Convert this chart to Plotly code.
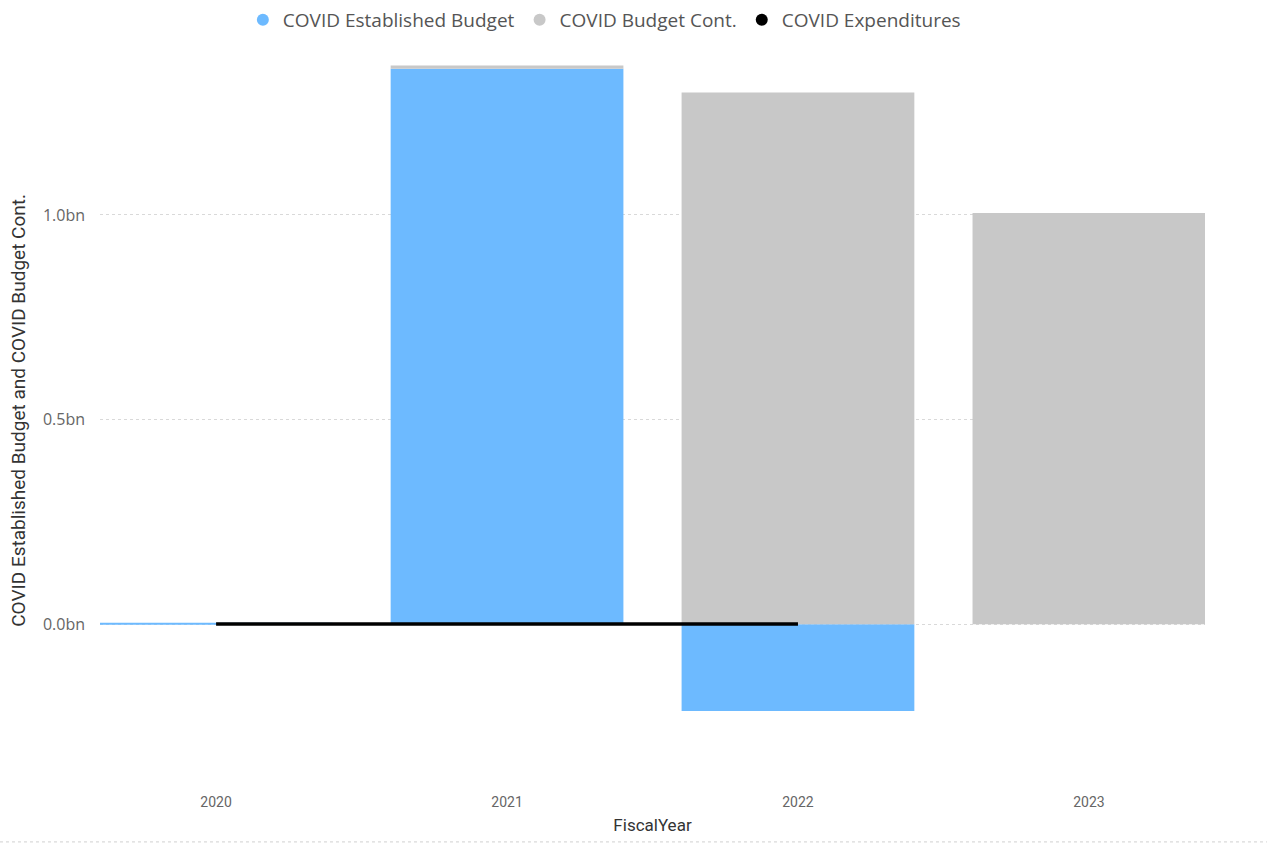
import plotly.graph_objects as go

years = ["2020", "2021", "2022", "2023"]
established_budget = [0.004, 1.357, -0.212, 0.0]   # bn
budget_cont = [0.0, 0.008, 1.299, 1.005]          # bn
exp_years = ["2020", "2021", "2022"]
expenditures = [0.001, 0.001, 0.001]              # bn
ytick_vals = [0.0, 0.5, 1.0]
ytick_text = ["0.0bn", "0.5bn", "1.0bn"]

BLUE = "#6DBAFF"
GREY = "#C8C8C8"
BLACK = "#000000"

xpos = list(range(len(years)))
exp_pos = [years.index(y) for y in exp_years]

fig = go.Figure()
fig.add_trace(go.Bar(x=xpos, y=established_budget, marker=dict(color=BLUE, line=dict(width=0)),
                     width=0.8, showlegend=False, name="COVID Established Budget"))
fig.add_trace(go.Bar(x=xpos, y=budget_cont, marker=dict(color=GREY, line=dict(width=0)),
                     width=0.8, showlegend=False, name="COVID Budget Cont."))
fig.add_trace(go.Scatter(x=exp_pos, y=expenditures, mode="lines",
                         line=dict(color=BLACK, width=3.5), showlegend=False,
                         name="COVID Expenditures"))
# legend entries with circle markers
for nm, col in [("COVID Established Budget", BLUE), ("COVID Budget Cont.", GREY),
                ("COVID Expenditures", BLACK)]:
    fig.add_trace(go.Scatter(x=[None], y=[None], mode="markers", name=nm,
                             marker=dict(color=col, size=12, symbol="circle")))

fig.update_layout(
    width=1267, height=845,
    barmode="relative",
    bargap=0.2,
    plot_bgcolor="white", paper_bgcolor="white",
    margin=dict(l=100, r=62, t=45, b=75),
    font=dict(family="Open Sans, Noto Sans, sans-serif", color="#666666"),
    legend=dict(orientation="h", xref="container", yref="container",
                x=0.477, xanchor="center", y=0.999, yanchor="top",
                font=dict(size=19, color="#555555"), itemwidth=30,
                tracegroupgap=0),
    xaxis=dict(range=[-0.399, 3.399], tickvals=xpos, ticktext=years,
               showgrid=False, zeroline=False, showline=False, ticks="",
               tickfont=dict(family="Roboto, sans-serif", size=14, color="#666666"),
               ticklabelstandoff=22,
               title=dict(text="FiscalYear", standoff=10,
                          font=dict(family="Roboto, sans-serif", size=17, color="#333333"))),
    yaxis=dict(range=[-0.356, 1.401], tickvals=ytick_vals, ticktext=ytick_text,
               showgrid=True, gridcolor="#D9D9D9", griddash="dot", gridwidth=1,
               zeroline=False, showline=False, ticks="",
               tickfont=dict(size=16, color="#666666"), ticklabelstandoff=14,
               title=dict(text="COVID Established Budget and COVID Budget Cont.",
                          standoff=12,
                          font=dict(family="Roboto, sans-serif", size=19, color="#333333"))),
)
fig.add_shape(type="line", xref="paper", yref="paper", x0=-0.0905, x1=1.056,
              y0=-0.1, y1=-0.1, line=dict(color="#D0D0D0", width=1, dash="dot"))

fig.write_html("out.html")
